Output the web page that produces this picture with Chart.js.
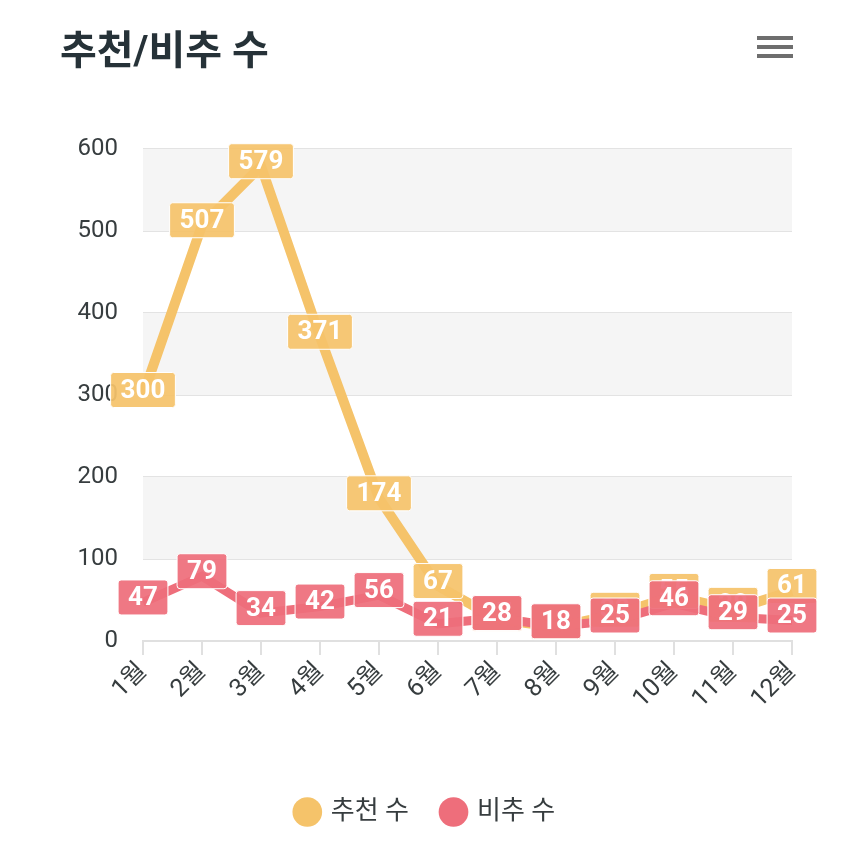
<!DOCTYPE html>
<html>
<head>
<meta charset="utf-8">
<title>추천/비추 수</title>
<style>
  html, body { margin: 0; padding: 0; background: #fff; }
  #wrap { position: relative; width: 850px; height: 854px; }
  #menu { position: absolute; left: 757px; top: 36px; width: 36px; }
  #menu span { display: block; height: 4px; background: #6e6e6e; margin-bottom: 5px; }
</style>
</head>
<body>
<div id="wrap">
  <canvas id="myChart" width="850" height="854"></canvas>
  <div id="menu"><span></span><span></span><span></span></div>
</div>
<script src="https://cdn.jsdelivr.net/npm/chart.js@4.4.0/dist/chart.umd.min.js"></script>
<script>
// data
var months = ['1월', '2월', '3월', '4월', '5월', '6월', '7월', '8월', '9월', '10월', '11월', '12월'];
var likes = [300, 507, 579, 371, 174, 67, 27, 17, 32, 55, 38, 61];
var dislikes = [47, 79, 34, 42, 56, 21, 28, 18, 25, 46, 29, 25];
var yTicks = [0, 100, 200, 300, 400, 500, 600];

var yellow = '#f5c36a';
var red = '#ee6e7b';
var fontFamily = 'Roboto, "Noto Sans CJK KR", sans-serif';

// grey stripes between the grid rows, starting from the top
var bandPlugin = {
  id: 'bands',
  beforeDatasetsDraw: function(chart) {
    var ctx = chart.ctx, area = chart.chartArea, ys = chart.scales.y;
    ctx.save();
    ctx.fillStyle = '#f5f5f5';
    for (var i = yTicks.length - 1; i > 0; i -= 2) {
      var top = ys.getPixelForValue(yTicks[i]);
      var bottom = ys.getPixelForValue(yTicks[i - 1]);
      ctx.fillRect(area.left, top, area.right - area.left, bottom - top);
    }
    ctx.restore();
  }
};

// boxed value labels (yellow first, red on top)
var labelPlugin = {
  id: 'boxLabels',
  afterDatasetsDraw: function(chart) {
    var ctx = chart.ctx;
    ctx.save();
    ctx.font = 'bold 26px ' + fontFamily;
    ctx.textAlign = 'center';
    ctx.textBaseline = 'middle';
    chart.data.datasets.forEach(function(ds, di) {
      var meta = chart.getDatasetMeta(di);
      meta.data.forEach(function(pt, i) {
        var text = String(ds.data[i]);
        var w = ctx.measureText(text).width + 20, h = 35;
        var x = pt.x, y = pt.y - 5;
        ctx.beginPath();
        ctx.roundRect(x - w / 2, y - h / 2, w, h, 3);
        ctx.globalAlpha = 0.93;
        ctx.fillStyle = ds.borderColor;
        ctx.fill();
        ctx.globalAlpha = 1;
        ctx.lineWidth = 1;
        ctx.strokeStyle = '#ffffff';
        ctx.stroke();
        ctx.fillStyle = '#ffffff';
        ctx.fillText(text, x, y + 1);
      });
    });
    ctx.restore();
  }
};

var ctx = document.getElementById('myChart').getContext('2d');
var chart = new Chart(ctx, {
  type: 'line',
  data: {
    labels: months,
    datasets: [{
      label: '추천 수',
      data: likes,
      borderColor: yellow,
      backgroundColor: yellow,
      borderWidth: 10,
      pointRadius: 0,
      tension: 0,
      order: 1
    }, {
      label: '비추 수',
      data: dislikes,
      borderColor: red,
      backgroundColor: red,
      borderWidth: 9,
      pointRadius: 0,
      tension: 0,
      order: 0
    }]
  },
  options: {
    responsive: false,
    animation: false,
    devicePixelRatio: 1,
    layout: { padding: { left: 60, right: 58, top: 0, bottom: 19 } },
    plugins: {
      tooltip: { enabled: false },
      title: {
        display: true,
        text: '추천/비추 수',
        align: 'start',
        color: '#263238',
        font: { family: fontFamily, size: 40, weight: 'bold' },
        padding: { top: 30, bottom: 71 }
      },
      legend: {
        position: 'bottom',
        labels: {
          usePointStyle: true,
          pointStyle: 'circle',
          boxWidth: 21,
          boxHeight: 21,
          color: '#373d3f',
          padding: 34,
          font: { family: fontFamily, size: 26 },
          generateLabels: function(chart) {
            var items = Chart.defaults.plugins.legend.labels.generateLabels(chart);
            items.forEach(function(it) { it.lineWidth = 0; });
            return items;
          },
          sort: function(a, b) { return a.datasetIndex - b.datasetIndex; }
        }
      }
    },
    scales: {
      x: {
        grid: { display: true, drawOnChartArea: false, drawTicks: true, tickLength: 14, color: '#e0e0e0', lineWidth: 2 },
        border: { display: true, color: '#e0e0e0', width: 2 },
        ticks: {
          color: '#373d3f',
          font: { family: fontFamily, size: 25 },
          minRotation: 45,
          maxRotation: 45,
          autoSkip: false,
          padding: 2
        },
        afterFit: function(scale) { scale.height = 124; }
      },
      y: {
        min: 0,
        max: 600,
        afterBuildTicks: function(scale) {
          scale.ticks = yTicks.map(function(v) { return { value: v }; });
        },
        grid: { color: '#e3e3e3', lineWidth: 2, drawTicks: false },
        border: { display: false },
        ticks: {
          color: '#373d3f',
          font: { family: fontFamily, size: 24 },
          padding: 25
        },
        afterFit: function(scale) { scale.width = 83; }
      }
    }
  },
  plugins: [bandPlugin, labelPlugin]
});
</script>
</body>
</html>
